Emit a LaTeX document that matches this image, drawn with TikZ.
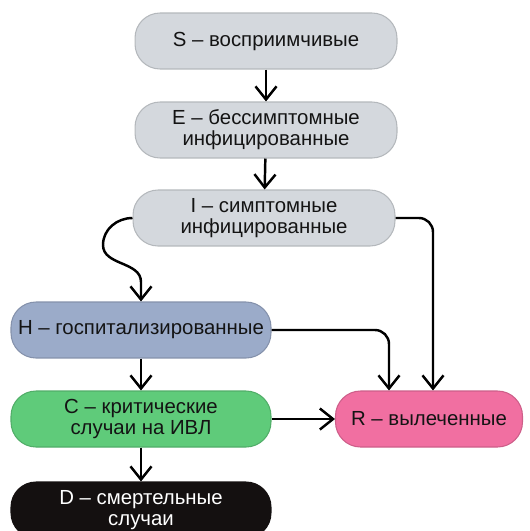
\documentclass[tikz,border=0pt]{standalone}
\usepackage{fontspec}
\setmainfont{Liberation Sans}
\usepackage{tikz}
\usetikzlibrary{arrows.meta}
\usetikzlibrary{calc}
\definecolor{greybox}{HTML}{D4D8DD}
\definecolor{hospbox}{HTML}{9BABC9}
\definecolor{critbox}{HTML}{5FCB7A}
\definecolor{recbox}{HTML}{F16FA1}
\definecolor{deadbox}{HTML}{141010}
\tikzset{
  stage/.style={rectangle, rounded corners=0.5cm, align=center, inner sep=0pt,
    minimum height=1.12cm, font=\fontsize{11.6}{11.8}\selectfont, text=black!92,
    line width=0.6pt},
  flow/.style={line width=1.4pt, -{Straight Barb[length=7.5pt,width=12pt,line width=1.4pt]}}
}

\begin{document}
\begin{tikzpicture}[x=0.02cm,y=-0.02cm]
   \useasboundingbox (0,0) rectangle (530,531);
   \node [stage, fill=greybox, draw=greybox!85!black, minimum width=5.24cm] (S) at (266,41) {S -- восприимчивые};
   \node [stage, fill=greybox, draw=greybox!85!black, minimum width=5.24cm] (E) at (266,130) {E -- бессимптомные\\инфицированные};
   \node [stage, fill=greybox, draw=greybox!85!black, minimum width=5.24cm] (I) at (264,218) {I -- симптомные\\инфицированные};
   \node [stage, fill=hospbox, draw=hospbox!85!black, minimum width=5.2cm] (H) at (141,330) {H -- госпитализированные};
   \node [stage, fill=critbox, draw=critbox!85!black, minimum width=5.2cm] (C) at (141,419) {C -- критические\\случаи на ИВЛ};
   \node [stage, fill=recbox, draw=recbox!85!black, minimum width=3.74cm] (R) at (429,419) {R -- вылеченные};
   \node [stage, fill=deadbox, draw=deadbox, text=white, minimum width=5.2cm] (D) at (141,510) {D -- смертельные\\случаи};
   \coordinate (bend) at (141,282);
%%\draw [flow] (I.west) -- (H.north);
   \draw [flow] (S) -- (E);
   \draw [flow] (E) -- (I);
   \draw [flow] (I.west) to[out=180,in=90] (103,245) to[out=-90,in=90] (bend) -- (H.north);
   \draw [flow, rounded corners=8pt] (I.east) -| ($(R.north)+(4,0)$);
   \draw [flow, rounded corners=8pt] (H.east) -| ($(R.north)+(-40,0)$);
   \draw [flow] (H) -- (C);
   \draw [flow] (C) -- (R);
   \draw [flow] (C) -- (D);

\end{tikzpicture}
\end{document}
